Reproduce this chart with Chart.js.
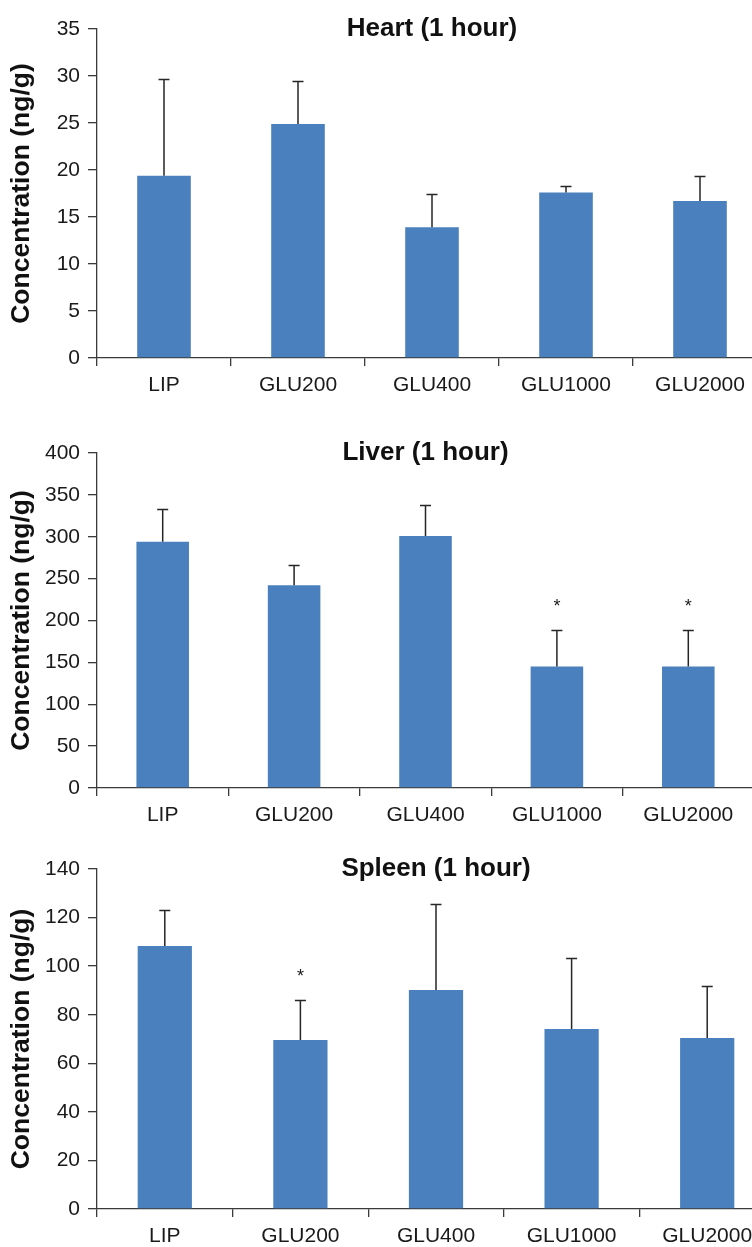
<!DOCTYPE html>
<html>
<head>
<meta charset="utf-8">
<title>Organ concentration (1 hour)</title>
<script src="https://cdn.jsdelivr.net/npm/chart.js@4.4.1/dist/chart.umd.min.js"></script>
<style>
  html, body { margin: 0; padding: 0; background: #fff; overflow: hidden; width: 752px; height: 1247px; }
  .panel { position: absolute; left: 0; }
</style>
</head>
<body>
<div class="panel" style="top:0px"><canvas id="heartChart" width="767" height="400"></canvas></div>
<div class="panel" style="top:420px"><canvas id="liverChart" width="754" height="410"></canvas></div>
<div class="panel" style="top:840px"><canvas id="spleenChart" width="775" height="407"></canvas></div>
<script>
// data
const categories = ["LIP", "GLU200", "GLU400", "GLU1000", "GLU2000"];

const heartMean = [19.4, 24.9, 13.9, 17.6, 16.7];
const heartSD = [10.3, 4.6, 3.5, 0.7, 2.7];
const heartStars = [false, false, false, false, false];

const liverMean = [294, 242, 301, 145, 145];
const liverSD = [39, 24, 37, 44, 44];
const liverStars = [false, false, false, true, true];

const spleenMean = [108.3, 69.6, 90.2, 74.1, 70.4];
const spleenSD = [14.8, 16.6, 35.5, 29.1, 21.5];
const spleenStars = [false, true, false, false, false];

// y axis ticks: min, max and step per panel
const heartTicks = [0, 35, 5];
const liverTicks = [0, 400, 50];
const spleenTicks = [0, 140, 20];

const FONT = '"Liberation Sans", Arial, Helvetica, sans-serif';
const AXIS = "#3a3a3a";
Chart.defaults.font.family = FONT;
Chart.defaults.color = "#1a1a1a";

function makeChart(id, title, mean, sd, stars, ticks, layout) {
  const canvas = document.getElementById(id);

  // draws error bars, asterisks and the panel title
  const extras = {
    id: "extras",
    afterDatasetsDraw(chart) {
      const ctx = chart.ctx;
      const y = chart.scales.y;
      const area = chart.chartArea;
      const bars = chart.getDatasetMeta(0).data;
      ctx.save();
      ctx.strokeStyle = "#262626";
      ctx.lineWidth = 1.5;
      bars.forEach((bar, i) => {
        const top = Math.round(y.getPixelForValue(mean[i] + sd[i])) + 0.5;
        ctx.beginPath();
        ctx.moveTo(bar.x, bar.y);
        ctx.lineTo(bar.x, top);
        ctx.moveTo(bar.x - 5.5, top);
        ctx.lineTo(bar.x + 5.5, top);
        ctx.stroke();
        if (stars[i]) {
          ctx.fillStyle = "#1a1a1a";
          ctx.font = "18px " + FONT;
          ctx.textAlign = "center";
          ctx.textBaseline = "middle";
          ctx.fillText("*", bar.x, top - 23);
        }
      });
      ctx.fillStyle = "#111";
      ctx.font = "bold 26px " + FONT;
      ctx.textAlign = "center";
      ctx.textBaseline = "middle";
      ctx.fillText(title, (area.left + area.right) / 2, area.top);
      ctx.restore();
    },
  };

  return new Chart(canvas, {
    type: "bar",
    data: {
      labels: categories,
      datasets: [
        {
          data: mean,
          backgroundColor: "#4a80be",
          borderWidth: 0,
          categoryPercentage: 1.0,
          barPercentage: 0.4,
        },
      ],
    },
    options: {
      responsive: false,
      animation: false,
      layout: { padding: { top: layout.top, left: 0, right: 0, bottom: 0 } },
      plugins: {
        legend: { display: false },
        tooltip: { enabled: false },
      },
      scales: {
        x: {
          afterFit: (scale) => {
            scale.height = canvas.height - layout.bottom;
          },
          border: { display: true, color: AXIS, width: 1.3 },
          grid: {
            offset: true,
            drawOnChartArea: false,
            drawTicks: true,
            tickLength: 8,
            color: AXIS,
            lineWidth: 1.3,
          },
          ticks: { font: { size: 21 }, padding: 7, color: "#1a1a1a" },
        },
        y: {
          min: ticks[0],
          max: ticks[1],
          afterFit: (scale) => {
            scale.width = 97;
          },
          border: { display: true, color: AXIS, width: 1.3 },
          grid: {
            drawOnChartArea: false,
            drawTicks: true,
            tickLength: 9,
            color: AXIS,
            lineWidth: 1.3,
          },
          ticks: { stepSize: ticks[2], font: { size: 21 }, padding: 8, color: "#1a1a1a" },
          title: {
            display: true,
            text: "Concentration (ng/g)",
            font: { size: 26.5, weight: "bold", lineHeight: 1.2 },
            padding: { top: 6, bottom: 0 },
            color: "#111",
          },
        },
      },
    },
    plugins: [extras],
  });
}

makeChart("heartChart", "Heart (1 hour)", heartMean, heartSD, heartStars, heartTicks, { top: 29, bottom: 358 });
makeChart("liverChart", "Liver (1 hour)", liverMean, liverSD, liverStars, liverTicks, { top: 33, bottom: 368 });
makeChart("spleenChart", "Spleen (1 hour)", spleenMean, spleenSD, spleenStars, spleenTicks, { top: 29, bottom: 369 });
</script>
</body>
</html>
